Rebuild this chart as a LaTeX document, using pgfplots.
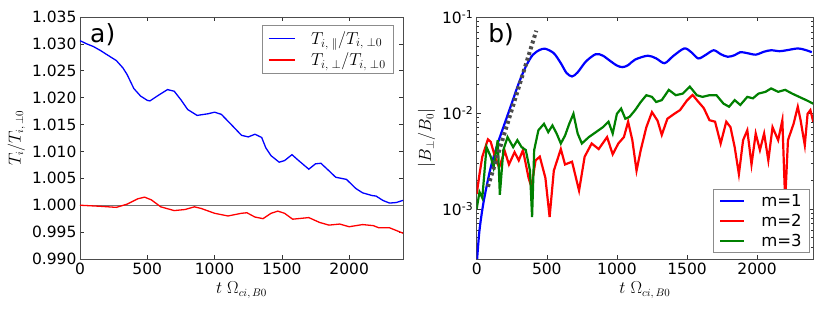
\documentclass[border=0pt]{standalone}
\usepackage{pgfplots}
\pgfplotsset{compat=1.18}
\usepackage{fontspec}
\setmainfont{DejaVu Sans}
\definecolor{mgreen}{rgb}{0,0.5,0}
\begin{document}
\begin{tikzpicture}
\pgfplotsset{
  every axis/.append style={
    scale only axis,
    axis line style={black!70, line width=0.8pt},
    tick style={black!80, line width=0.6pt},
    major tick length=4pt, minor tick length=2pt,
    tick label style={font=\fontsize{15.5}{17}\selectfont},
    label style={font=\fontsize{16}{18}\selectfont},
    /pgf/number format/assume math mode=true,
    xmin=0, xmax=2400,
    xtick={0,500,1000,1500,2000},
    xticklabel style={/pgf/number format/1000 sep={}},
  }
}
% ---------------- a) ----------------
\begin{axis}[
  at={(80pt,53pt)}, anchor=south west,
  width=323pt, height=242pt,
  ymin=0.990, ymax=1.035,
  ytick={0.990,0.995,1.000,1.005,1.010,1.015,1.020,1.025,1.030,1.035},
  yticklabel style={/pgf/number format/.cd,fixed,fixed zerofill,precision=3},
  xlabel={$t\ \Omega_{ci,\,B0}$},
  ylabel={$T_i/T_{i,\,\perp 0}$},
  xlabel style={yshift=-1pt},
  ylabel style={yshift=0pt},
  legend style={at={(0.972,0.967)}, anchor=north east, draw=black!45, line width=0.6pt,
    font=\fontsize{17.5}{19}\selectfont, row sep=3pt, inner xsep=6pt, inner ysep=4pt,
    /tikz/every odd column/.append style={column sep=14pt}},
  legend cell align=left,
  legend image code/.code={\draw[#1, line width=1.2pt] (0pt,0pt) -- (26pt,0pt);},
]
\addplot[black!55, line width=1pt, forget plot] coordinates {(0,1) (2400,1)};
\addplot[blue, line width=1.3pt] coordinates {
(0,1.0306) (50,1.0300) (100,1.0295) (150,1.0288) (200,1.0280) (270,1.0269) (320,1.0255) (350,1.0243)
(400,1.0217) (450,1.0203) (500,1.0195) (520,1.0194) (580,1.0204) (650,1.0215) (700,1.0212)
(750,1.0196) (800,1.0178) (870,1.0167) (950,1.0170) (1000,1.0173) (1050,1.0169) (1120,1.0151)
(1200,1.0130) (1250,1.0127) (1300,1.0132) (1350,1.0126) (1380,1.0107) (1420,1.0092) (1480,1.0080)
(1520,1.0083) (1575,1.0094) (1620,1.0084) (1700,1.0067) (1750,1.0077) (1790,1.0078) (1850,1.0064)
(1900,1.0052) (1980,1.0048) (2050,1.0031) (2100,1.0023) (2170,1.0018) (2200,1.0017) (2250,1.0009)
(2300,1.0004) (2350,1.0005) (2400,1.0009)};
\addplot[red, line width=1.3pt] coordinates {
(0,1.0000) (150,0.9998) (270,0.9996) (350,1.0002) (430,1.0012) (480,1.0015) (530,1.0010)
(600,0.9997) (700,0.9990) (780,0.9992) (850,0.9997) (900,0.9994) (1000,0.9985) (1100,0.9980)
(1200,0.9985) (1240,0.9986) (1300,0.9978) (1360,0.9975) (1420,0.9985) (1470,0.9989) (1520,0.9985)
(1580,0.9974) (1700,0.9977) (1780,0.9968) (1850,0.9963) (1930,0.9965) (2000,0.9960) (2100,0.9964)
(2180,0.9962) (2220,0.9958) (2300,0.9958) (2400,0.9948)};
\legend{{$T_{i,\;\parallel}/T_{i,\;\perp 0}$},{$T_{i,\;\perp}/T_{i,\;\perp 0}$}}
\node[anchor=north west, inner sep=0pt, font=\fontsize{25}{28}\selectfont] at (rel axis cs:0.031,0.975) {a)};
\end{axis}
% ---------------- b) ----------------
\begin{axis}[
  at={(476.7pt,53pt)}, anchor=south west,
  width=336.5pt, height=242pt,
  ymode=log, ymin=3e-4, ymax=0.1,
  ytick={1e-3,1e-2,1e-1},
  yticklabels={10\textsuperscript{-3},10\textsuperscript{-2},10\textsuperscript{-1}},
  minor ytick={4e-4,5e-4,6e-4,7e-4,8e-4,9e-4,2e-3,3e-3,4e-3,5e-3,6e-3,7e-3,8e-3,9e-3,2e-2,3e-2,4e-2,5e-2,6e-2,7e-2,8e-2,9e-2},
  xlabel={$t\ \Omega_{ci,\,B0}$},
  ylabel={$|B_\perp/B_0|$},
  xlabel style={yshift=-1pt},
  ylabel style={yshift=0pt},
  legend style={at={(0.9905,0.025)}, anchor=south east, draw=black!45, line width=0.6pt,
    font=\fontsize{16.5}{18}\selectfont, row sep=2pt, inner xsep=6pt, inner ysep=3pt,
    /tikz/every odd column/.append style={column sep=14pt}},
  legend cell align=left,
  legend image code/.code={\draw[#1, line width=2.2pt] (0pt,0pt) -- (24pt,0pt);},
]
\addplot[blue, line width=2.2pt, smooth] coordinates {
(3,3.0e-4) (20,6.0e-4) (50,1.2e-3) (100,2.7e-3) (150,4.8e-3) (200,7.8e-3) (250,0.0126) (300,0.0204)
(350,0.0304) (400,0.0403) (450,0.0454) (490,0.0466) (550,0.0419) (600,0.0330) (640,0.0262) (680,0.0240)
(720,0.0265) (780,0.0345) (850,0.0410) (900,0.0395) (950,0.0350) (1000,0.0312) (1040,0.0300) (1080,0.0315)
(1130,0.0360) (1220,0.0395) (1280,0.0370) (1340,0.0330) (1400,0.0390) (1480,0.0470) (1530,0.0430)
(1580,0.0370) (1630,0.0400) (1690,0.0450) (1740,0.0410) (1790,0.0385) (1840,0.0400) (1880,0.0430)
(1930,0.0420) (1990,0.0405) (2050,0.0435) (2100,0.0450) (2160,0.0440) (2210,0.0450) (2290,0.0470)
(2340,0.0455) (2390,0.0430)};
\addplot[red, line width=2.2pt] coordinates {
(0,1.43e-3) (20,2.3e-3) (40,3.5e-3) (80,5.3e-3) (100,5.0e-3) (130,3.5e-3) (160,2.7e-3) (200,4.0e-3)
(230,2.9e-3) (270,3.9e-3) (300,3.2e-3) (330,4.1e-3) (370,2.1e-3) (390,1.7e-3) (420,3.2e-3) (450,3.5e-3)
(490,2.1e-3) (520,8.2e-4) (550,2.5e-3) (600,4.2e-3) (630,2.9e-3) (680,3.1e-3) (730,1.55e-3) (770,3.5e-3)
(820,4.8e-3) (870,4.2e-3) (930,5.6e-3) (970,3.7e-3) (1010,4.8e-3) (1050,5.6e-3) (1080,8.1e-3) (1110,5.2e-3)
(1140,2.5e-3) (1170,4.1e-3) (1210,7.1e-3) (1250,0.0102) (1290,8.3e-3) (1320,5.9e-3) (1360,8.7e-3)
(1410,9.8e-3) (1450,0.0107) (1500,0.0135) (1540,0.0154) (1580,0.0131) (1620,0.0112) (1660,8.4e-3)
(1700,8.1e-3) (1740,4.8e-3) (1780,8.1e-3) (1810,7.1e-3) (1840,4.4e-3) (1870,2.3e-3) (1900,5.2e-3)
(1930,6.6e-3) (1960,2.9e-3) (1990,6.1e-3) (2020,4.1e-3) (2050,6.1e-3) (2080,3.2e-3) (2110,7.1e-3)
(2150,5.2e-3) (2180,8.4e-3) (2200,1.2e-3) (2220,5.2e-3) (2260,7.7e-3) (2290,0.0116) (2310,8.4e-3)
(2340,4.6e-3) (2360,9.8e-3) (2380,0.0107) (2400,8.1e-3)};
\addplot[mgreen, line width=2.2pt] coordinates {
(0,1.0e-3) (20,1.5e-3) (40,1.3e-3) (70,4.4e-3) (100,3.5e-3) (120,2.7e-3) (150,5.2e-3) (165,1.4e-3)
(190,4.1e-3) (220,5.6e-3) (260,4.4e-3) (290,5.2e-3) (320,4.4e-3) (350,4.1e-3) (380,2.5e-3) (395,8.2e-4)
(410,4.1e-3) (440,6.6e-3) (480,7.7e-3) (510,6.3e-3) (540,7.4e-3) (570,6.1e-3) (600,4.8e-3) (630,5.8e-3)
(660,7.7e-3) (690,9.8e-3) (720,6.1e-3) (750,4.8e-3) (800,5.6e-3) (850,6.3e-3) (900,7.1e-3) (940,8.1e-3)
(970,6.1e-3) (1000,9.8e-3) (1030,0.0111) (1060,8.7e-3) (1090,9.1e-3) (1130,0.0107) (1170,0.0130)
(1210,0.0153) (1250,0.0147) (1280,0.0130) (1320,0.0136) (1370,0.0174) (1420,0.0153) (1470,0.0159)
(1520,0.0188) (1570,0.0153) (1610,0.0147) (1660,0.0153) (1710,0.0153) (1760,0.0125) (1800,0.0116)
(1840,0.0136) (1880,0.0121) (1930,0.0147) (1970,0.0142) (2010,0.0159) (2060,0.0166) (2100,0.0180)
(2150,0.0166) (2200,0.0174) (2250,0.0159) (2300,0.0147) (2350,0.0136) (2400,0.0125)};
\addplot[black!70, line width=4pt, dash pattern=on 3pt off 3pt, forget plot] coordinates {(80,1.7e-3) (425,0.072)};
\legend{m=1,m=2,m=3}
\node[anchor=north west, inner sep=0pt, font=\fontsize{25}{28}\selectfont] at (rel axis cs:0.034,0.975) {b)};
\end{axis}
\pgfresetboundingbox
\path[use as bounding box] (0,0) rectangle (822pt,312pt);
\end{tikzpicture}
\end{document}
